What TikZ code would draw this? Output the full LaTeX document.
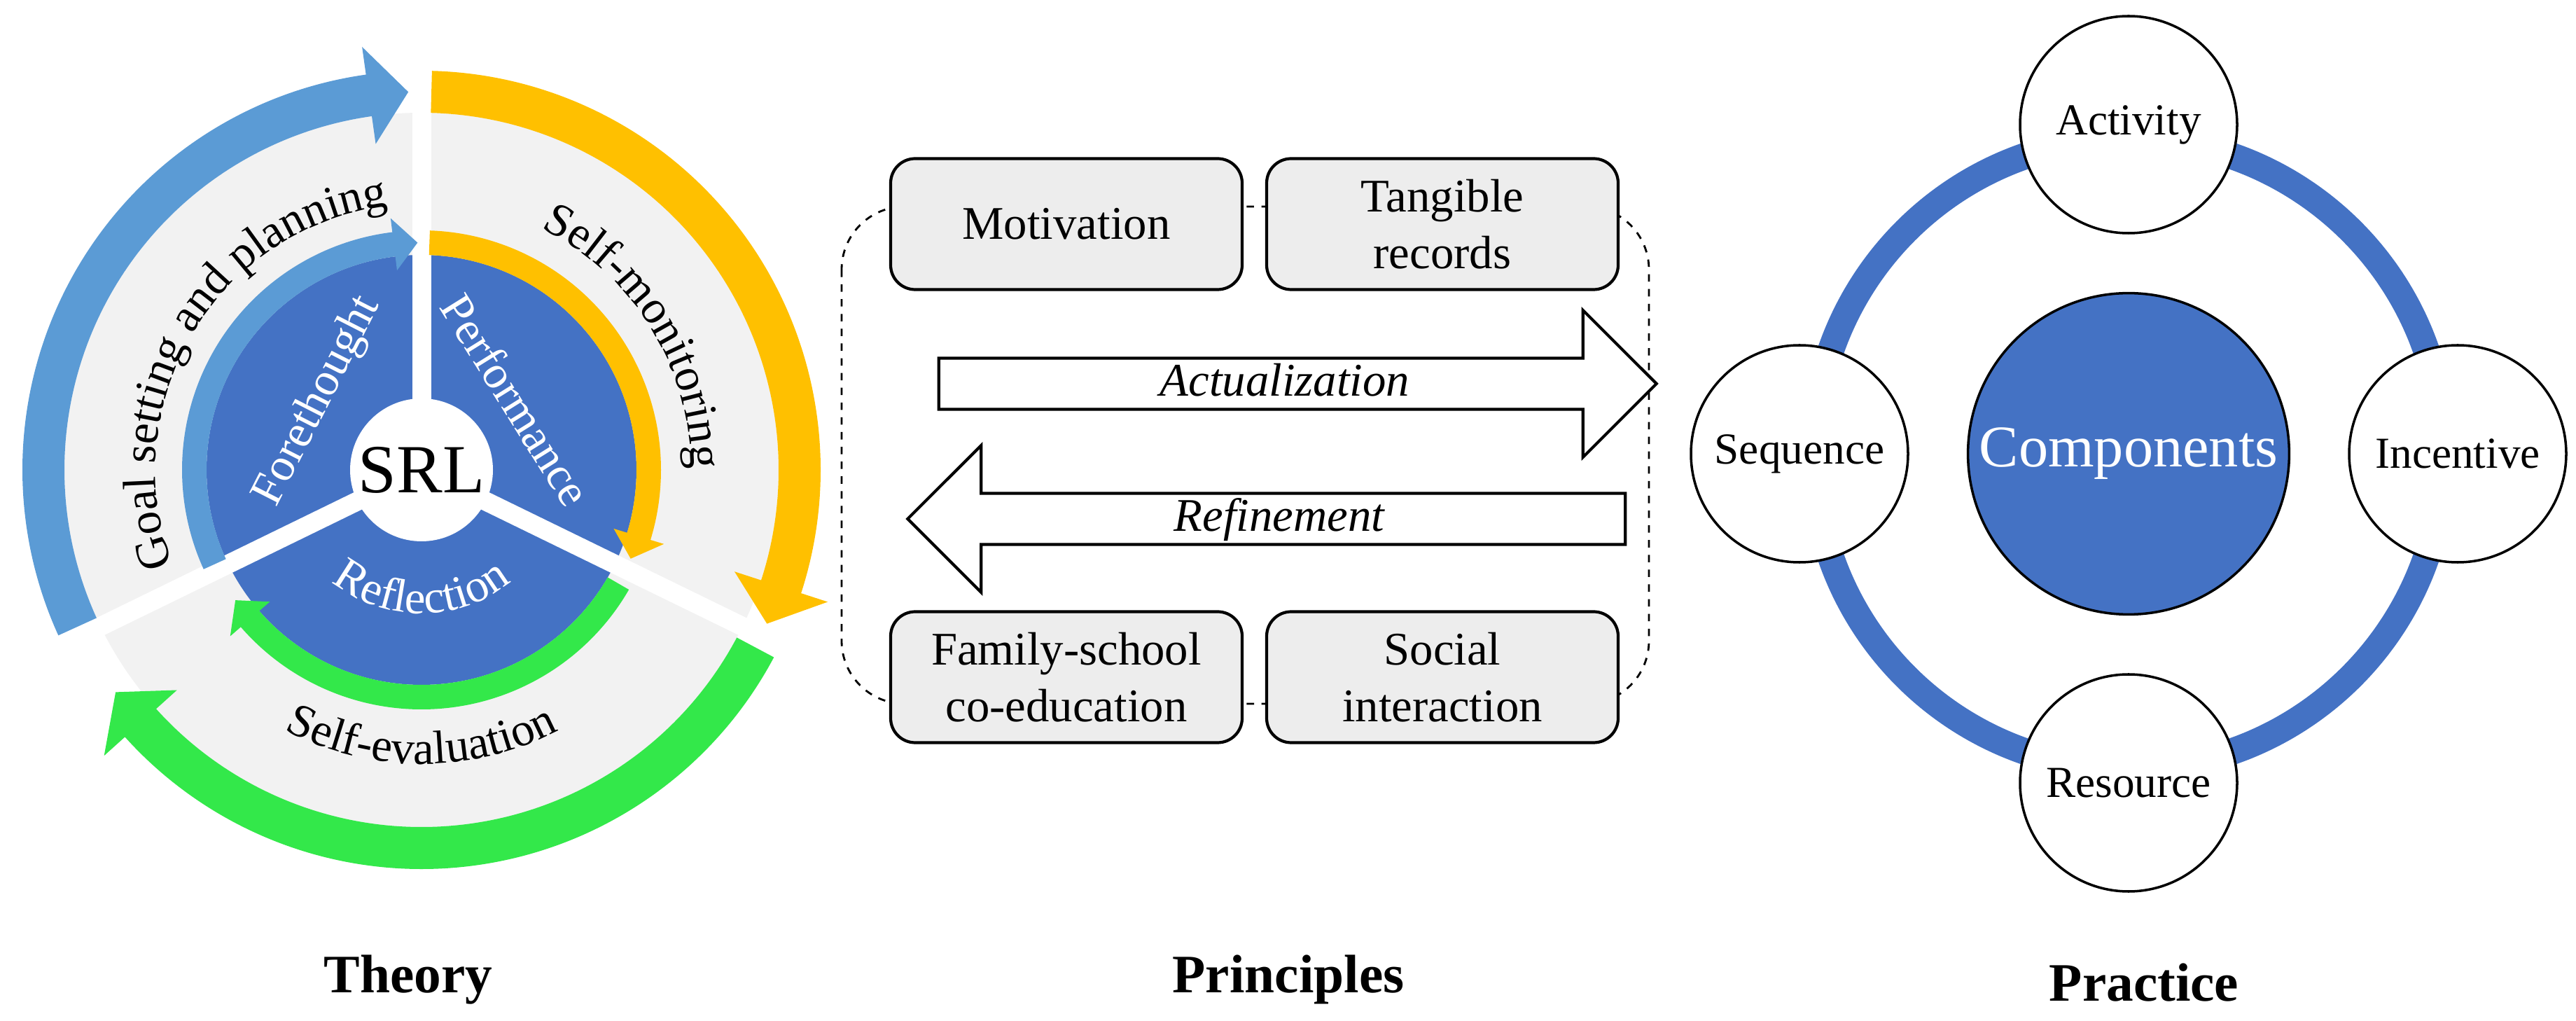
\documentclass[tikz,border=0pt]{standalone}
\usepackage{fontspec}
\setmainfont{Liberation Serif}
\usetikzlibrary{shapes.arrows,shapes.geometric,decorations.text,positioning,calc}
\definecolor{lightblue}{HTML}{5B9BD5}
\definecolor{darkblue}{HTML}{4472C4}
\definecolor{amber}{HTML}{FFC000}
\definecolor{brightgreen}{HTML}{33E84A}
\definecolor{ringgray}{HTML}{F2F2F2}
\definecolor{boxgray}{HTML}{EDEDED}
\tikzstyle{box} = [rectangle, rounded corners=0.35cm, draw=black, line width=1.2pt, fill=boxgray, minimum width=5.02cm, minimum height=1.87cm, align=center, font=\fontsize{19}{23}\selectfont]
\tikzstyle{bigarrow} = [single arrow, draw=black, line width=1.2pt, fill=white, minimum height=10.25cm, minimum width=2.1cm, single arrow head extend=0.65cm, single arrow tip angle=90, inner sep=0pt, text height=0.5cm, text depth=0.15cm, font=\itshape\fontsize{19}{23}\selectfont]
\tikzstyle{part} = [circle, draw=black, line width=1pt, fill=white, minimum size=3.1cm, font=\fontsize{18}{22}\selectfont]
\tikzstyle{phase} = [text=white, font=\fontsize{19}{22}\selectfont]
\tikzstyle{title} = [font=\bfseries\fontsize{22}{26}\selectfont]
\tikzstyle{gap} = [white, line width=0.27cm]
% clockwise band arrow: colour, inner r, outer r, start, tip, overhang, head angle
\newcommand\bandarrow[7]{%
  \fill[#1] (#4:#2) arc[start angle=#4, end angle=#5+#7, radius=#2] -- ({#5+#7}:{#2-#6}) -- (#5:{(#2+#3)/2}) -- ({#5+#7}:{#3+#6}) -- ({#5+#7}:#3) arc[start angle=#5+#7, end angle=#4, radius=#3] -- cycle;}
\newcommand\arclabel[5]{% colour, radius, from, to, text
  \path[decorate, decoration={text along path, text align=center, text={|\color{#1}\fontsize{19}{22}\selectfont|#5}}] (#3:#2) arc[start angle=#3, end angle=#4, radius=#2];}
\begin{document}
\begin{tikzpicture}
\useasboundingbox (0,0) rectangle (36.79,14.57);
% Theory
\begin{scope}[shift={(6.02,7.86)}]
\fill[ringgray] (0,0) circle (5.1);
\fill[darkblue] (0,0) circle (3.07);
\foreach \a in {90,206,-26} \draw[gap] (0,0) -- (\a:6.4);
\bandarrow{lightblue}{5.1}{5.7}{204.5}{92}{0.4}{6}
\bandarrow{amber}{5.1}{5.7}{88.5}{-24}{0.4}{6}
\bandarrow{brightgreen}{5.1}{5.7}{-28}{-144}{0.4}{6}
\bandarrow{lightblue}{3.07}{3.42}{204.5}{91}{0.2}{6}
\bandarrow{amber}{3.07}{3.42}{88}{-23}{0.2}{6}
\bandarrow{brightgreen}{3.07}{3.42}{-30}{-145}{0.2}{6}
\fill[white] (0,0) circle (1.02);
\node (srl) at (0,0) {\fontsize{28}{32}\selectfont SRL};
\arclabel{black}{3.8}{209}{89}{Goal setting and planning}
\arclabel{black}{3.85}{92}{-28}{Self-monitoring}
\arclabel{black}{4.2}{210}{330}{Self-evaluation}
\node[phase, rotate=63] (fore) at (-1.48,0.98) {Forethought};
\node[phase, rotate=-58] (perf) at (1.35,1.0) {Performance};
\arclabel{white}{2.05}{210}{330}{Reflection}
\end{scope}
\node[title] (theory) at (5.83,0.58) {Theory};
% Principles
\coordinate (lt) at (12.02,11.62);
\coordinate (rb) at (23.55,4.52);
\draw[dashed, line width=0.8pt, rounded corners=0.9cm] (lt) rectangle (rb);
\node[box] (mot) at (15.23,11.37) {Motivation};
\node[box] (rec) at (20.60,11.37) {Tangible\\records};
\node[box] (fam) at (15.23,4.90) {Family-school\\co-education};
\node[box] (soc) at (20.60,4.90) {Social\\interaction};
\node[bigarrow] (act) at (18.35,9.09) {Actualization};
\node[bigarrow, shape border rotate=180] (ref) at (18.27,7.16) {Refinement};
\node[title] (principles) at (18.40,0.58) {Principles};
% Practice
\node[circle, draw=black, line width=1pt, fill=darkblue, minimum size=4.4cm, text=white, font=\fontsize{24}{28}\selectfont] (comp) at (30.40,8.09) {Components};
\draw[darkblue, line width=0.38cm] (comp.center) circle (4.5);
\node[part] (activity) at ($(comp.center)+(0,4.7)$) {Activity};
\node[part] (incentive) at ($(comp.center)+(4.7,0)$) {Incentive};
\node[part] (resource) at ($(comp.center)+(0,-4.7)$) {Resource};
\node[part] (sequence) at ($(comp.center)+(-4.7,0)$) {Sequence};
\node[title] (practice) at (30.62,0.54) {Practice};
\end{tikzpicture}
\end{document}
